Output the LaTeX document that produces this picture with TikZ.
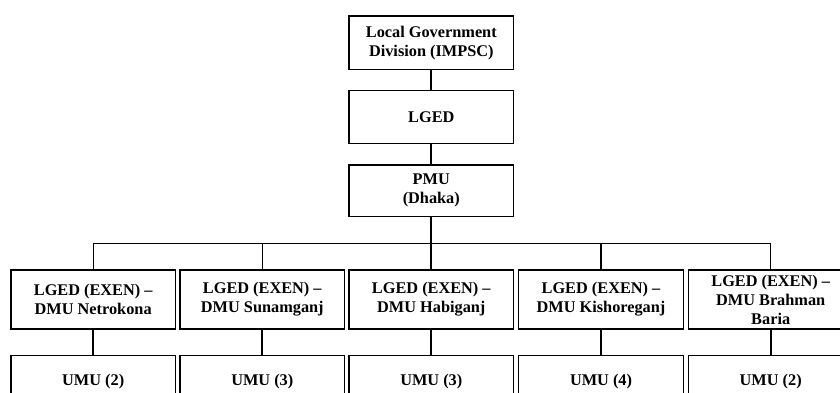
\documentclass[tikz,border=0pt]{standalone}
\usepackage{fontspec}
\setmainfont{Liberation Serif}
\begin{document}
\begin{tikzpicture}[x=1pt,y=-1pt,
  orgbox/.style={draw=black, line width=1.3pt, fill=white, align=center,
    font=\fontsize{16.3}{19}\selectfont\bfseries, inner sep=0pt,
    minimum width=164.5pt},
  link/.style={line width=2pt},
  bus/.style={line width=1.3pt}]
\useasboundingbox (0,0) rectangle (840,392);
\clip (0,0) rectangle (840,392);
\fill[white] (0,0) rectangle (840,392);

% top of the hierarchy
\node[orgbox, minimum height=53.3pt] (lgd) at (431.3,42.7) {Local Government\\Division (IMPSC)};
\node[orgbox, minimum height=52.6pt] (lged) at (431.3,117) {LGED};
\node[orgbox, minimum height=51.7pt] (pmu) at (431.3,190.8) {PMU\\(Dhaka)};

% district management units
\node[orgbox, minimum height=59pt] (d1) at (93.2,299.5) {LGED (EXEN) –\\DMU Netrokona};
\node[orgbox, minimum height=59pt] (d2) at (262.3,299.5) {LGED (EXEN) –\\DMU Sunamganj};
\node[orgbox, minimum height=59pt] (d3) at (431.3,299.5) {LGED (EXEN) –\\DMU Habiganj};
\node[orgbox, minimum height=59pt] (d4) at (601,299.5) {LGED (EXEN) –\\DMU Kishoreganj};
\node[orgbox, minimum height=59pt] (d5) at (770.7,299.5) {LGED (EXEN) –\\DMU Brahman\\Baria};

% upazila management units
\node[orgbox, minimum height=53pt] (u1) at (93.2,381.8) {UMU (2)};
\node[orgbox, minimum height=53pt] (u2) at (262.3,381.8) {UMU (3)};
\node[orgbox, minimum height=53pt] (u3) at (431.3,381.8) {UMU (3)};
\node[orgbox, minimum height=53pt] (u4) at (601,381.8) {UMU (4)};
\node[orgbox, minimum height=53pt] (u5) at (770.7,381.8) {UMU (2)};

% connectors
\coordinate (busc) at (431.3,243.3);
\draw[link] (lgd.south) -- (lged.north);
\draw[link] (lged.south) -- (pmu.north);
\draw[link] (pmu.south) -- (busc);
\draw[bus] (d1.north |- busc) -- (d5.north |- busc);
\foreach \i in {1,2,4,5} {
  \draw[bus] (d\i.north) -- (d\i.north |- busc);
}
\draw[link] (d3.north) -- (busc);
\foreach \i in {1,...,5} {
  \draw[link] (d\i.south) -- (u\i.north);
}
\end{tikzpicture}
\end{document}
